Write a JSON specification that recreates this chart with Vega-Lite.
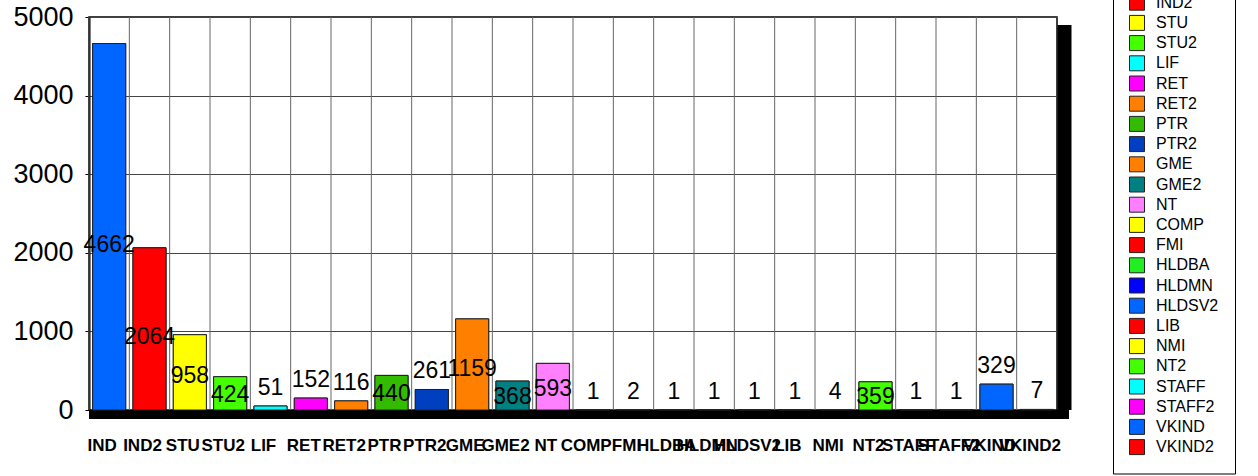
{
  "$schema": "https://vega.github.io/schema/vega-lite/v6.json",
  "autosize": "none",
  "width": 968,
  "height": 393,
  "padding": {"left": 89, "top": 17, "right": 201, "bottom": 66},
  "background": "white",
  "data": {"values": [
    {"cat": "IND", "value": 4662},
    {"cat": "IND2", "value": 2064},
    {"cat": "STU", "value": 958},
    {"cat": "STU2", "value": 424},
    {"cat": "LIF", "value": 51},
    {"cat": "RET", "value": 152},
    {"cat": "RET2", "value": 116},
    {"cat": "PTR", "value": 440},
    {"cat": "PTR2", "value": 261},
    {"cat": "GME", "value": 1159},
    {"cat": "GME2", "value": 368},
    {"cat": "NT", "value": 593},
    {"cat": "COMP", "value": 1},
    {"cat": "FMI", "value": 2},
    {"cat": "HLDBA", "value": 1},
    {"cat": "HLDMN", "value": 1},
    {"cat": "HLDSV2", "value": 1},
    {"cat": "LIB", "value": 1},
    {"cat": "NMI", "value": 4},
    {"cat": "NT2", "value": 359},
    {"cat": "STAFF", "value": 1},
    {"cat": "STAFF2", "value": 1},
    {"cat": "VKIND", "value": 329},
    {"cat": "VKIND2", "value": 7}
  ]},
  "layer": [
    {
      "mark": {"type": "bar", "width": {"band": 0.82}, "stroke": "#222222", "strokeWidth": 1},
      "encoding": {
        "x": {"field": "cat", "type": "nominal", "sort": null,
              "scale": {"paddingInner": 0, "paddingOuter": 0},
              "axis": {"title": null, "labelAngle": 0, "labelOverlap": false, "labelFontSize": 17,
                       "labelFontWeight": "bold", "labelColor": "black", "ticks": false,
                       "domainColor": "black", "domainWidth": 1, "grid": false, "bandPosition": 0.5,
                       "labelPadding": 27, "labelOffset": -7, "labelBound": false, "labelFlush": false,
                       "labelFont": "Liberation Sans"}},
        "y": {"field": "value", "type": "quantitative",
              "scale": {"domain": [0, 5000], "nice": false},
              "axis": {"title": null, "values": [0, 1000, 2000, 3000, 4000, 5000], "format": "d",
                       "labelFontSize": 27, "labelColor": "black", "labelFont": "Liberation Sans",
                       "tickSize": 4, "tickColor": "black", "domainColor": "black", "domainWidth": 2,
                       "gridColor": "#444444", "gridWidth": 1, "labelPadding": 12}},
        "color": {"field": "cat", "type": "nominal", "sort": null,
                  "scale": {
                    "domain": ["IND","IND2","STU","STU2","LIF","RET","RET2","PTR","PTR2","GME","GME2","NT","COMP","FMI","HLDBA","HLDMN","HLDSV2","LIB","NMI","NT2","STAFF","STAFF2","VKIND","VKIND2"],
                    "range": ["#0066FF","#FF0000","#FFFF00","#44FF00","#00FFFF","#FF00FF","#FF8000","#33BB00","#0040C0","#FF8000","#008080","#FF80FF","#FFFF00","#FF0000","#22EE22","#0000FF","#0066FF","#FF0000","#FFFF00","#44FF00","#00FFFF","#FF00FF","#0066FF","#FF0000"]
                  },
                  "legend": {"title": null, "orient": "none", "legendX": 1024, "legendY": -58.5,
                             "padding": 16, "strokeColor": "black", "fillColor": "white",
                             "symbolType": "square", "symbolSize": 225, "symbolStrokeColor": "black",
                             "symbolStrokeWidth": 1, "symbolOpacity": 1, "labelFontSize": 16,
                             "labelFont": "Liberation Sans", "labelColor": "black", "labelOffset": 11,
                             "rowPadding": 0.2}}
      }
    },
    {
      "mark": {"type": "rule", "color": "#666666", "strokeWidth": 1},
      "encoding": {
        "x": {"field": "cat", "type": "nominal", "sort": null, "bandPosition": 0}
      }
    },
    {
      "mark": {"type": "rule", "color": "black", "strokeWidth": 8, "yOffset": 4.5, "xOffset": 12},
      "encoding": {"y": {"datum": 0, "type": "quantitative"}}
    },
    {
      "transform": [{"filter": "datum.cat == 'VKIND2'"}],
      "mark": {"type": "rule", "color": "black", "strokeWidth": 14, "xOffset": 7.5, "yOffset": 8},
      "encoding": {
        "x": {"field": "cat", "type": "nominal", "sort": null, "bandPosition": 1}
      }
    },
    {
      "mark": {"type": "bar", "width": {"band": 0.82}, "stroke": "#222222", "strokeWidth": 1},
      "encoding": {
        "x": {"field": "cat", "type": "nominal", "sort": null},
        "y": {"field": "value", "type": "quantitative"},
        "color": {"field": "cat", "type": "nominal", "sort": null}
      }
    },
    {
      "transform": [{"calculate": "datum.value >= 350 ? datum.value * 0.45 : datum.value + 230", "as": "labelY"}],
      "mark": {"type": "text", "fontSize": 23, "font": "Liberation Sans", "color": "black", "baseline": "middle", "align": "center"},
      "encoding": {
        "x": {"field": "cat", "type": "nominal", "sort": null},
        "y": {"field": "labelY", "type": "quantitative"},
        "text": {"field": "value", "type": "quantitative"}
      }
    }
  ],
  "config": {
    "view": {"stroke": "black", "strokeWidth": 1.5},
    "font": "Liberation Sans"
  }
}
